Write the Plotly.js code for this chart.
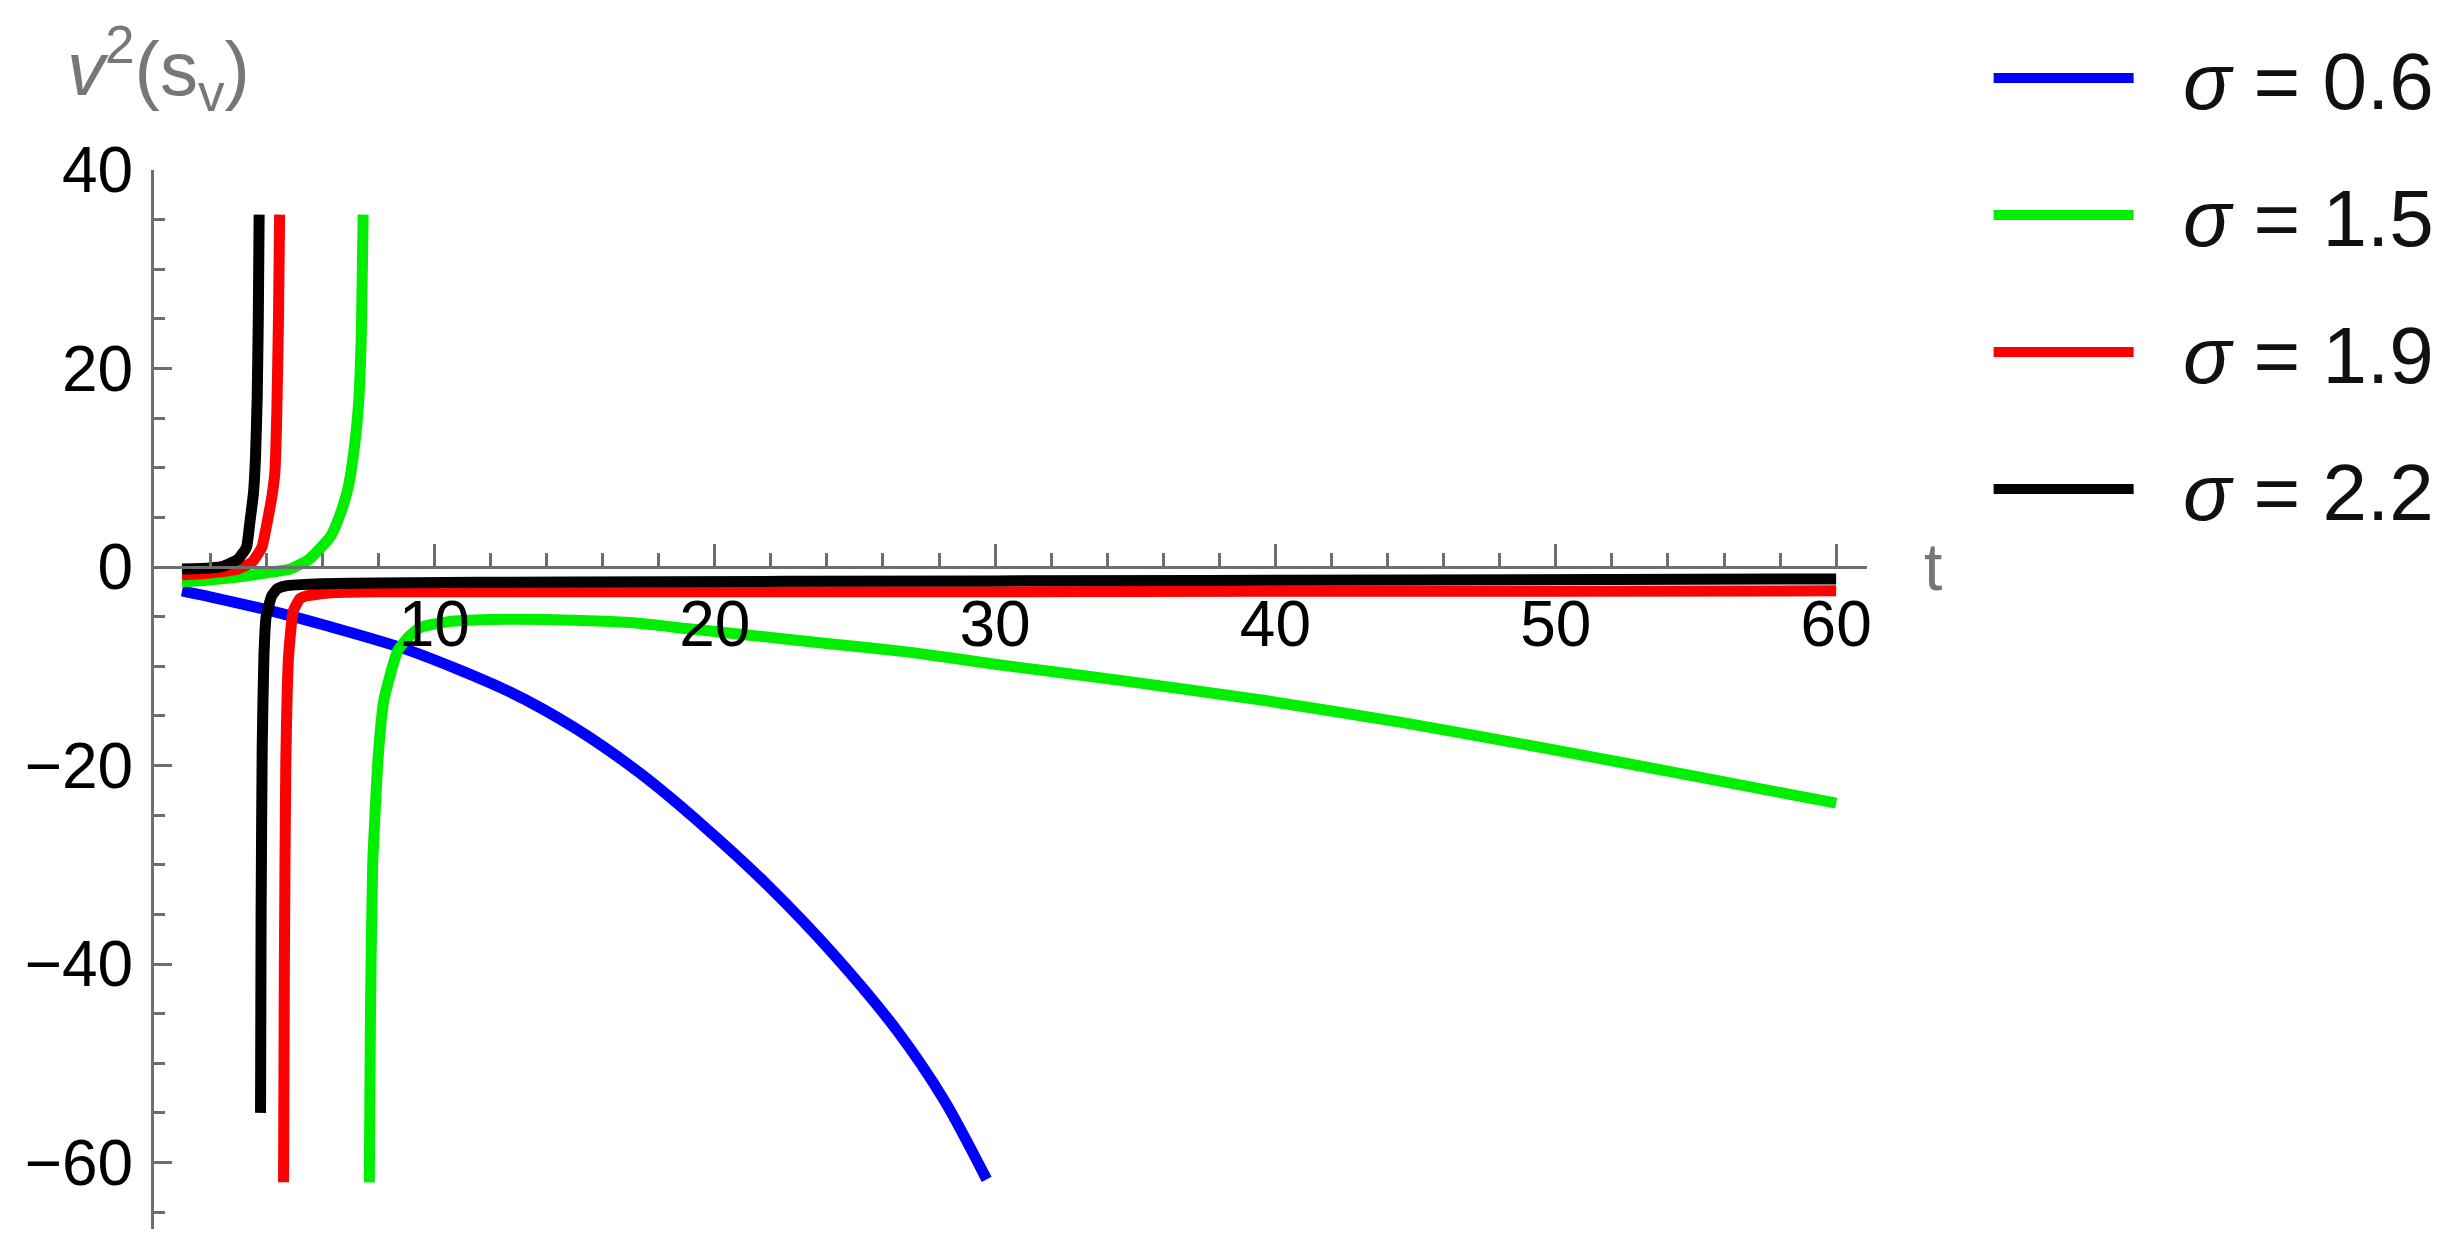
<!DOCTYPE html>
<html>
<head>
<meta charset="utf-8">
<script src="https://cdn.plot.ly/plotly-3.0.1.min.js"></script>
<style>
  html, body { margin: 0; padding: 0; background: #fff; }
  #chart { width: 2456px; height: 1248px; }
</style>
</head>
<body>
<div id="chart"></div>
<script>
// sigma values shown in the legend
const sigmaLabels = ['0.6', '1.5', '1.9', '2.2'];
const lineColors = ['#0000ff', '#00ee00', '#ff0000', '#000000'];

// sigma = 0.6
const tBlue = [1, 2, 4, 6, 9.1, 12.7, 15, 17.3, 19.6, 21.9, 24.2, 26.5, 28.2, 29.7];
const vBlue = [-2.4, -3.0, -4.3, -5.8, -8.4, -12.6, -16.2, -20.7, -26.1, -32.1, -38.9, -46.7, -53.8, -61.7];

// sigma = 1.5 (null splits the two branches at the pole)
const tGreen = [1, 2, 3, 4, 4.85, 5.5, 5.9, 6.3, 6.6, 6.9, 7.1, 7.3, 7.4, 7.46, null,
  7.68, 7.72, 7.8, 8.0, 8.2, 8.7, 9.1, 9.5, 10.5, 12, 14, 17, 19, 21, 24, 27, 30, 34.4, 39.5, 44.6, 49.7, 54.8, 60];
const vGreen = [-1.5, -1.3, -1.0, -0.6, -0.2, 0.7, 1.8, 3.1, 5.0, 7.7, 11, 16.6, 24, 35.5, null,
  -62, -45, -30, -19, -13.4, -8.4, -7.0, -6.1, -5.5, -5.3, -5.3, -5.6, -6.2, -6.8, -7.7, -8.6, -9.8, -11.4, -13.4, -15.7, -18.3, -21.0, -23.8];

// sigma = 1.9
const tRed = [1, 2, 3, 3.5, 3.85, 4.07, 4.2, 4.31, 4.38, 4.44, 4.48, null,
  4.62, 4.65, 4.7, 4.8, 4.96, 5.2, 5.45, 6.3, 8, 10, 20, 30, 40, 50, 60];
const vRed = [-0.8, -0.6, -0.2, 0.5, 2, 5.0, 7, 9.5, 15.5, 25, 35.5, null,
  -62, -40, -20, -9, -4.5, -3.2, -2.9, -2.6, -2.5, -2.5, -2.5, -2.5, -2.45, -2.45, -2.4];

// sigma = 2.2
const tBlack = [1, 2, 2.5, 3, 3.3, 3.42, 3.55, 3.62, 3.68, 3.72, 3.75, null,
  3.8, 3.82, 3.86, 3.92, 4.0, 4.2, 4.4, 4.7, 5.1, 6, 8, 15, 30, 45, 60];
const vBlack = [-0.2, -0.1, 0.1, 0.8, 2.0, 4.5, 7.5, 11, 17, 25, 35.5, null,
  -55, -35, -18, -9, -5, -2.9, -2.2, -1.9, -1.8, -1.7, -1.6, -1.5, -1.4, -1.3, -1.2];

const xTicks = [10, 20, 30, 40, 50, 60];
const yTicks = [-60, -40, -20, 0, 20, 40];

const xRange = [0, 61.1];
const yRange = [-66.7, 40];

const font = 'Liberation Sans, Arial, sans-serif';
const axisGray = '#6e6e6e';
const gap = '\u00a0\u00a0';

const series = [[tBlue, vBlue], [tGreen, vGreen], [tRed, vRed], [tBlack, vBlack]];
const smooth = [0.8, 0.5, 0.4, 0.4];

const traces = series.map((s, i) => ({
    x: s[0],
    y: s[1],
    type: 'scatter',
    mode: 'lines',
    name: gap + '<i>σ</i> = ' + sigmaLabels[i],
    legendgroup: 'g' + i,
    connectgaps: false,
    line: { color: lineColors[i], width: 11, shape: 'spline', smoothing: smooth[i] }
}));

// x axis crosses the y axis at v = 0
const xAxisPos = (0 - yRange[0]) / (yRange[1] - yRange[0]);

const layout = {
    width: 2456,
    height: 1248,
    margin: { l: 154, r: 589, t: 170, b: 19 },
    paper_bgcolor: '#fff',
    plot_bgcolor: '#fff',
    font: { family: font, color: '#000' },
    showlegend: true,
    legend: {
        x: 1.071, xanchor: 'left',
        y: 1.142, yanchor: 'top',
        font: { family: font, size: 80, color: '#111' },
        itemwidth: 140,
        traceorder: 'grouped',
        tracegroupgap: 30,
        bgcolor: 'rgba(0,0,0,0)'
    },
    xaxis: {
        range: xRange,
        anchor: 'free',
        position: xAxisPos,
        showgrid: false,
        zeroline: false,
        showline: true,
        linecolor: axisGray,
        linewidth: 3,
        tickmode: 'array',
        tickvals: xTicks,
        ticks: 'inside',
        ticklen: 22,
        tickwidth: 3,
        tickcolor: axisGray,
        tickfont: { family: font, size: 64, color: '#000' },
        minor: { tickmode: 'linear', tick0: 0, dtick: 2, ticks: 'inside', ticklen: 13, tickwidth: 3, tickcolor: axisGray }
    },
    yaxis: {
        range: yRange,
        showgrid: false,
        zeroline: false,
        showline: true,
        linecolor: axisGray,
        linewidth: 3,
        tickmode: 'array',
        tickvals: yTicks,
        ticks: 'inside',
        ticklen: 18,
        tickwidth: 3,
        tickcolor: axisGray,
        ticklabelstandoff: 5,
        tickfont: { family: font, size: 64, color: '#000' },
        minor: { tickmode: 'linear', tick0: 0, dtick: 5, ticks: 'inside', ticklen: 11, tickwidth: 3, tickcolor: axisGray }
    },
    annotations: [
        {
            text: '<i>v</i><sup>2</sup>(s<sub>v</sub>)',
            xref: 'paper', yref: 'paper',
            x: -0.052, xanchor: 'left',
            y: 1.096, yanchor: 'middle',
            showarrow: false,
            font: { family: font, size: 76, color: '#777' }
        },
        {
            text: 't',
            xref: 'paper', yref: 'paper',
            x: 1.0385, xanchor: 'center',
            y: xAxisPos, yanchor: 'middle',
            showarrow: false,
            font: { family: font, size: 66, color: '#777' }
        }
    ]
};

Plotly.newPlot('chart', traces, layout, { staticPlot: true });
</script>
</body>
</html>
